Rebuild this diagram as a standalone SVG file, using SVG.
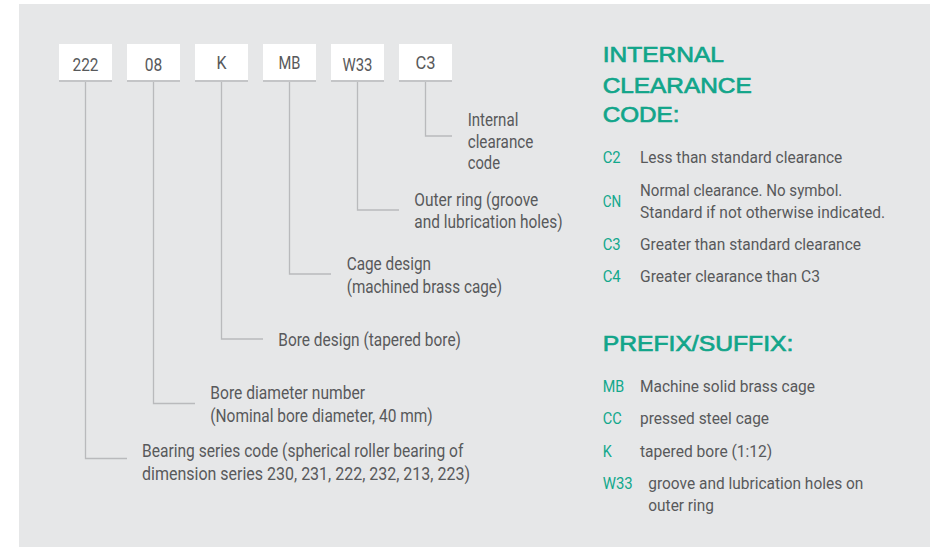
<svg xmlns="http://www.w3.org/2000/svg" width="930" height="547" viewBox="0 0 930 547">
<style>
.bg{fill:#e6e7e8}
.box{fill:#ffffff}
.boxline{stroke:#c4c5c7;stroke-width:2}
.code{font-family:Roboto,"Liberation Sans",sans-serif;font-size:19px;fill:#58595b;text-anchor:middle}
.lbl{font-family:Roboto,"Liberation Sans",sans-serif;font-size:18.2px;fill:#58595b}
.item{font-family:Roboto,"Liberation Sans",sans-serif;font-size:17px;fill:#58595b}
.key{font-family:Roboto,"Liberation Sans",sans-serif;font-size:17px;fill:#12a88c}
.head{font-family:"Liberation Sans",Arial,sans-serif;font-size:22.5px;font-weight:400;fill:#12a58a;stroke:#12a58a;stroke-width:0.7}
.conn{fill:none;stroke:#b9babc;stroke-width:1.3}
</style>
<rect class="bg" x="19" y="4" width="911" height="543"/>

<g id="connectors">
<path class="conn" d="M85.5 82 V458.5 H127"/>
<path class="conn" d="M153.5 82 V403.5 H195"/>
<path class="conn" d="M221.5 82 V339 H263"/>
<path class="conn" d="M289.5 82 V274 H331"/>
<path class="conn" d="M357.5 82 V210 H399"/>
<path class="conn" d="M425.5 82 V136 H452"/>
</g>

<g id="node-222">
<rect class="box" x="59" y="44" width="53" height="38"/>
<line class="boxline" x1="59" y1="81" x2="112" y2="81"/>
<text class="code" x="85.5" y="70.5" textLength="26" lengthAdjust="spacingAndGlyphs">222</text>
</g>
<g id="node-08">
<rect class="box" x="127" y="44" width="53" height="38"/>
<line class="boxline" x1="127" y1="81" x2="180" y2="81"/>
<text class="code" x="153.5" y="70.5" textLength="17.5" lengthAdjust="spacingAndGlyphs">08</text>
</g>
<g id="node-K">
<rect class="box" x="195" y="44" width="53" height="38"/>
<line class="boxline" x1="195" y1="81" x2="248" y2="81"/>
<text class="code" x="221.5" y="68.5" textLength="10" lengthAdjust="spacingAndGlyphs">K</text>
</g>
<g id="node-MB">
<rect class="box" x="263" y="44" width="53" height="38"/>
<line class="boxline" x1="263" y1="81" x2="316" y2="81"/>
<text class="code" x="289.5" y="68.5" textLength="22" lengthAdjust="spacingAndGlyphs">MB</text>
</g>
<g id="node-W33">
<rect class="box" x="331" y="44" width="53" height="38"/>
<line class="boxline" x1="331" y1="81" x2="384" y2="81"/>
<text class="code" x="357.5" y="70.5" textLength="30" lengthAdjust="spacingAndGlyphs">W33</text>
</g>
<g id="node-C3">
<rect class="box" x="399" y="44" width="53" height="38"/>
<line class="boxline" x1="399" y1="81" x2="452" y2="81"/>
<text class="code" x="425.5" y="68.5" textLength="20" lengthAdjust="spacingAndGlyphs">C3</text>
</g>

<g id="label-C3">
<text class="lbl" x="467.7" y="126" textLength="50.6" lengthAdjust="spacingAndGlyphs">Internal</text>
<text class="lbl" x="467.7" y="147.7" textLength="65.7" lengthAdjust="spacingAndGlyphs">clearance</text>
<text class="lbl" x="467.7" y="169.3" textLength="32.3" lengthAdjust="spacingAndGlyphs">code</text>
</g>
<g id="label-W33">
<text class="lbl" x="414.3" y="206" textLength="124" lengthAdjust="spacingAndGlyphs">Outer ring (groove</text>
<text class="lbl" x="414.3" y="227.7" textLength="148.3" lengthAdjust="spacingAndGlyphs">and lubrication holes)</text>
</g>
<g id="label-MB">
<text class="lbl" x="346.7" y="270" textLength="84.3" lengthAdjust="spacingAndGlyphs">Cage design</text>
<text class="lbl" x="346.7" y="292.5" textLength="155.5" lengthAdjust="spacingAndGlyphs">(machined brass cage)</text>
</g>
<g id="label-K">
<text class="lbl" x="278.3" y="346" textLength="182.7" lengthAdjust="spacingAndGlyphs">Bore design (tapered bore)</text>
</g>
<g id="label-08">
<text class="lbl" x="210.3" y="399.3" textLength="154.7" lengthAdjust="spacingAndGlyphs">Bore diameter number</text>
<text class="lbl" x="210.3" y="421.7" textLength="222.4" lengthAdjust="spacingAndGlyphs">(Nominal bore diameter, 40 mm)</text>
</g>
<g id="label-222">
<text class="lbl" x="142" y="457.3" textLength="321.3" lengthAdjust="spacingAndGlyphs">Bearing series code (spherical roller bearing of</text>
<text class="lbl" x="142" y="480" textLength="328" lengthAdjust="spacingAndGlyphs">dimension series 230, 231, 222, 232, 213, 223)</text>
</g>

<g id="clearance-legend">
<text class="head" x="602.7" y="61.7" textLength="121.3" lengthAdjust="spacingAndGlyphs">INTERNAL</text>
<text class="head" x="602.7" y="93.3" textLength="149" lengthAdjust="spacingAndGlyphs">CLEARANCE</text>
<text class="head" x="602.7" y="122.3" textLength="76.7" lengthAdjust="spacingAndGlyphs">CODE:</text>
<text class="key" x="602.7" y="163.3" textLength="18" lengthAdjust="spacingAndGlyphs">C2</text>
<text class="item" x="640" y="163.3" textLength="202.3" lengthAdjust="spacingAndGlyphs">Less than standard clearance</text>
<text class="key" x="602.7" y="206.7" textLength="18.5" lengthAdjust="spacingAndGlyphs">CN</text>
<text class="item" x="640" y="195.7" textLength="202.3" lengthAdjust="spacingAndGlyphs">Normal clearance. No symbol.</text>
<text class="item" x="640" y="217.7" textLength="245" lengthAdjust="spacingAndGlyphs">Standard if not otherwise indicated.</text>
<text class="key" x="602.7" y="250" textLength="18" lengthAdjust="spacingAndGlyphs">C3</text>
<text class="item" x="640" y="250" textLength="221" lengthAdjust="spacingAndGlyphs">Greater than standard clearance</text>
<text class="key" x="602.7" y="281.7" textLength="18" lengthAdjust="spacingAndGlyphs">C4</text>
<text class="item" x="640" y="281.7" textLength="180" lengthAdjust="spacingAndGlyphs">Greater clearance than C3</text>
</g>

<g id="suffix-legend">
<text class="head" x="602.7" y="351" textLength="190.7" lengthAdjust="spacingAndGlyphs">PREFIX/SUFFIX:</text>
<text class="key" x="602.7" y="391.7" textLength="21.5" lengthAdjust="spacingAndGlyphs">MB</text>
<text class="item" x="640" y="391.7" textLength="175" lengthAdjust="spacingAndGlyphs">Machine solid brass cage</text>
<text class="key" x="602.7" y="424.3" textLength="19" lengthAdjust="spacingAndGlyphs">CC</text>
<text class="item" x="640" y="424.3" textLength="129" lengthAdjust="spacingAndGlyphs">pressed steel cage</text>
<text class="key" x="602.7" y="456.7" textLength="9" lengthAdjust="spacingAndGlyphs">K</text>
<text class="item" x="640" y="456.7" textLength="132.3" lengthAdjust="spacingAndGlyphs">tapered bore (1:12)</text>
<text class="key" x="602.7" y="489" textLength="30" lengthAdjust="spacingAndGlyphs">W33</text>
<text class="item" x="648.3" y="489" textLength="215" lengthAdjust="spacingAndGlyphs">groove and lubrication holes on</text>
<text class="item" x="648.3" y="511" textLength="65.7" lengthAdjust="spacingAndGlyphs">outer ring</text>
</g>
</svg>
